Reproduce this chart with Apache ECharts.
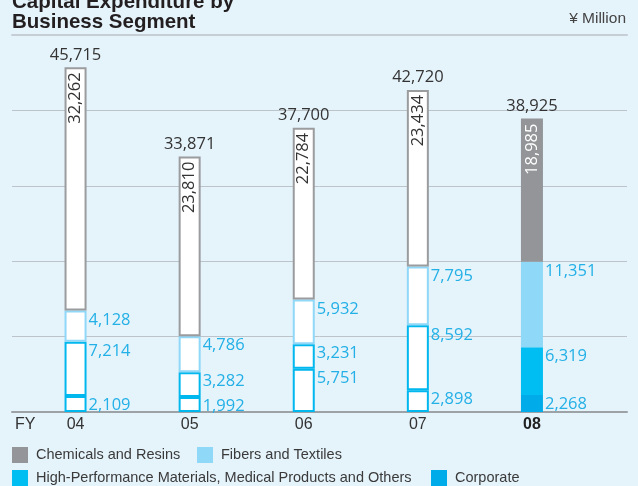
<!DOCTYPE html>
<html>
<head>
<meta charset="utf-8">
<script src="https://cdn.jsdelivr.net/npm/echarts@6/dist/echarts.min.js"></script>
<style>
  html, body { margin: 0; padding: 0; background: #e5f3fb; }
  #chart { width: 638px; height: 486px; }
</style>
</head>
<body>
<div id="chart"></div>
<script>
// capital expenditure, yen million
const years = ['04', '05', '06', '07', '08'];
const current = '08';
const chemicals = [32262, 23810, 22784, 23434, 18985];
const fibers = [4128, 4786, 5932, 7795, 11351];
const highPerf = [7214, 3282, 3231, 8592, 6319];
const corporate = [2109, 1992, 5751, 2898, 2268];
const totals = [45715, 33871, 37700, 42720, 38925];

const SANS = '"Liberation Sans", Arial, sans-serif';
const NUM = '"Open Sans", sans-serif';
const LABEL_BLUE = '#22b0e6';

const fmt = v => Number(v).toLocaleString('en-US');

// white boxes for past years, filled bar for the current one
const toItems = (values, border, labelColor) =>
  values.map((v, i) => {
    if (years[i] === current) return { value: v };
    const item = { value: v, itemStyle: { color: '#fff', borderColor: border, borderWidth: 2 } };
    if (labelColor) item.label = { color: labelColor };
    return item;
  });

const sideLabel = {
  show: true,
  position: ['100%', 0],
  align: 'left',
  verticalAlign: 'top',
  offset: [2, 1],
  color: LABEL_BLUE,
  fontFamily: NUM,
  fontSize: 16.5,
  formatter: p => fmt(p.value)
};

const segSeries = (name, values, fill, border) => ({
  name: name,
  type: 'bar',
  xAxisIndex: 2,
  yAxisIndex: 1,
  stack: 'capex',
  barWidth: 22,
  barGap: '-100%',
  itemStyle: { color: fill },
  label: sideLabel,
  data: toItems(values, border)
});

const legendBase = {
  padding: 0,
  icon: 'rect',
  itemWidth: 16,
  itemHeight: 16,
  selectedMode: false,
  textStyle: { fontFamily: SANS, fontSize: 14.5, color: '#3a3a3a', padding: [0, 0, 0, 3] }
};

const chart = echarts.init(document.getElementById('chart'));
chart.setOption({
  backgroundColor: '#e5f3fb',
  animation: false,
  title: [
    {
      text: 'Capital Expenditure by\nBusiness Segment',
      left: 12,
      top: -8,
      padding: 0,
      textStyle: { fontFamily: SANS, fontSize: 20.5, fontWeight: 'bold', lineHeight: 20, color: '#231f20' }
    },
    {
      text: '¥ Million',
      right: 12,
      top: 11,
      padding: 0,
      textStyle: { fontFamily: SANS, fontSize: 15.5, fontWeight: 'normal', color: '#444' }
    }
  ],
  legend: [
    Object.assign({}, legendBase, { left: 12, top: 447, data: [{ name: 'Chemicals and Resins' }] }),
    Object.assign({}, legendBase, { left: 197, top: 447, data: [{ name: 'Fibers and Textiles' }] }),
    Object.assign({}, legendBase, { left: 12, top: 470, data: [{ name: 'High-Performance Materials, Medical Products and Others' }] }),
    Object.assign({}, legendBase, { left: 431, top: 470, data: [{ name: 'Corporate' }] })
  ],
  graphic: [
    {
      type: 'text',
      left: 15,
      top: 417,
      style: { text: 'FY', font: '16px ' + SANS, fill: '#333' }
    }
  ],
  grid: [
    { left: 12, right: 11, top: 35, bottom: 74 },
    { left: 18.5, right: 49, top: 35, bottom: 74 }
  ],
  xAxis: [
    {
      gridIndex: 0,
      type: 'category',
      data: [''],
      axisLine: { lineStyle: { color: '#9da2a7', width: 2 } },
      axisTick: { show: false },
      axisLabel: { show: false }
    },
    {
      gridIndex: 0,
      type: 'category',
      position: 'top',
      data: [''],
      axisLine: { lineStyle: { color: '#c6cdd4', width: 2 } },
      axisTick: { show: false },
      axisLabel: { show: false }
    },
    {
      gridIndex: 1,
      type: 'category',
      data: years,
      axisLine: { show: false },
      axisTick: { show: false },
      axisLabel: {
        margin: 5,
        fontFamily: SANS,
        fontSize: 16,
        color: '#333',
        formatter: v => (v === current ? '{b|' + v + '}' : v),
        rich: { b: { fontFamily: SANS, fontSize: 16, fontWeight: 'bold', color: '#222' } }
      }
    }
  ],
  yAxis: [
    {
      gridIndex: 0,
      type: 'value',
      min: 0,
      max: 50000,
      interval: 10000,
      axisLine: { show: false },
      axisTick: { show: false },
      axisLabel: { show: false },
      splitLine: { lineStyle: { color: '#bcc3c9', width: 1 } }
    },
    {
      gridIndex: 1,
      type: 'value',
      min: 0,
      max: 50000,
      show: false
    }
  ],
  series: [
    segSeries('Corporate', corporate, '#00abea', '#00b7ee'),
    segSeries('High-Performance Materials, Medical Products and Others', highPerf, '#00bdf2', '#00b7ee'),
    segSeries('Fibers and Textiles', fibers, '#8fd8f8', '#8fd8f8'),
    {
      name: 'Chemicals and Resins',
      type: 'bar',
      xAxisIndex: 2,
      yAxisIndex: 1,
      stack: 'capex',
      barWidth: 22,
      barGap: '-100%',
      itemStyle: { color: '#939598' },
      label: {
        show: true,
        position: 'insideTop',
        distance: 5,
        rotate: 90,
        align: 'right',
        verticalAlign: 'middle',
        color: '#fff',
        fontFamily: NUM,
        fontSize: 16.5,
        formatter: p => fmt(p.value)
      },
      data: toItems(chemicals, '#9a9c9e', '#333')
    },
    {
      name: 'total',
      type: 'bar',
      xAxisIndex: 2,
      yAxisIndex: 1,
      barWidth: 22,
      barGap: '-100%',
      silent: true,
      itemStyle: { color: 'rgba(0,0,0,0)' },
      label: {
        show: true,
        position: 'top',
        distance: 4,
        color: '#333',
        fontFamily: NUM,
        fontSize: 16.5,
        formatter: p => fmt(p.value)
      },
      data: totals
    }
  ]
});
</script>
</body>
</html>
